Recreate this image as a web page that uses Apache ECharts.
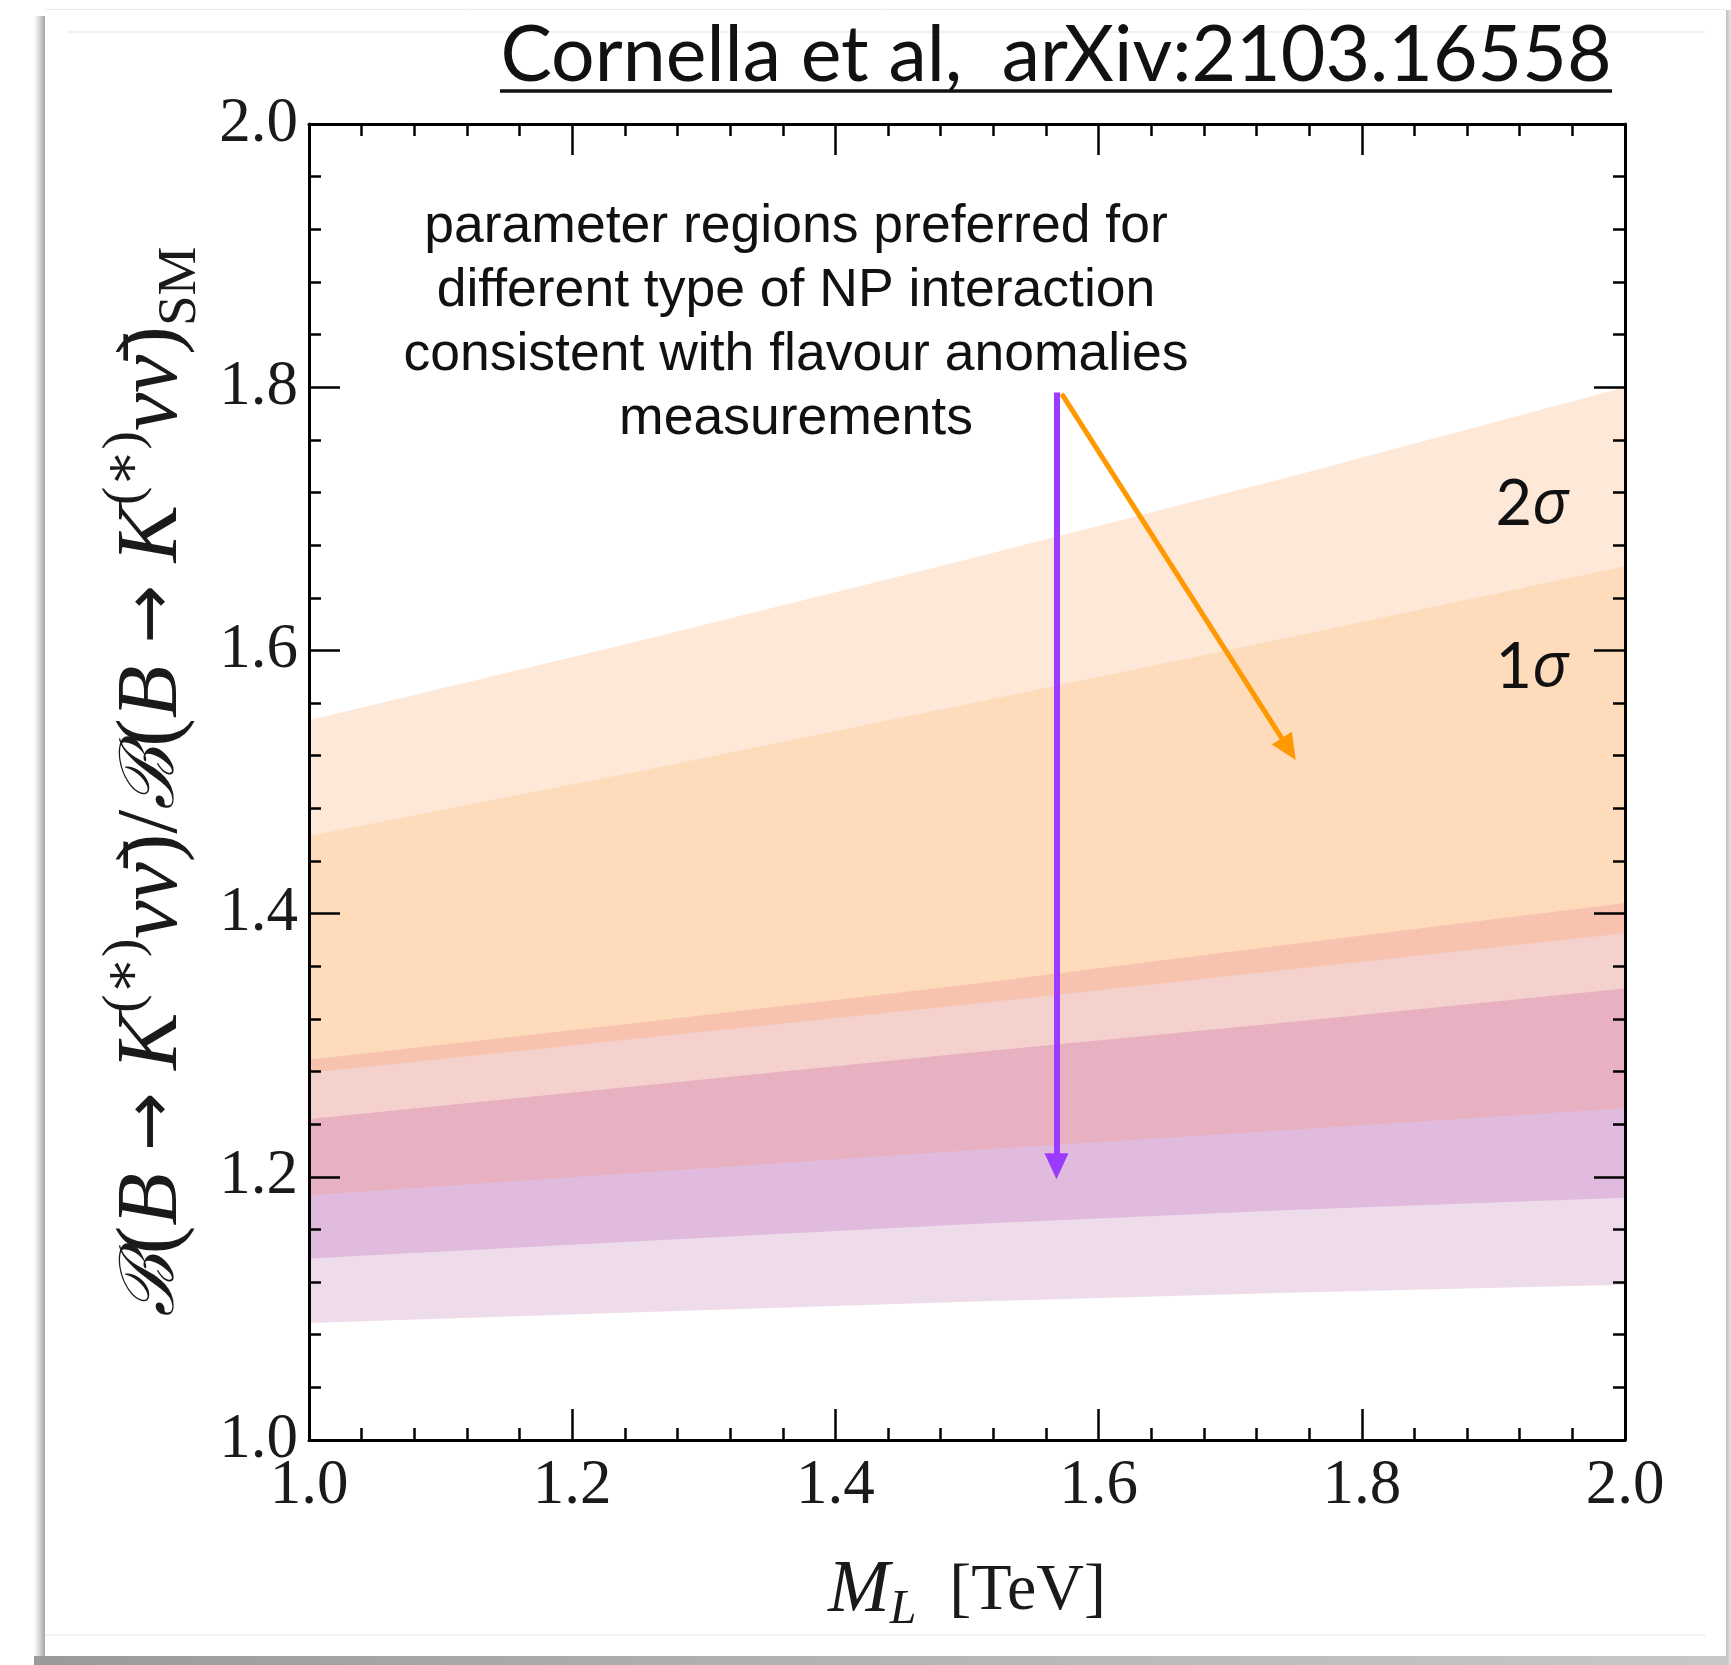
<!DOCTYPE html>
<html>
<head>
<meta charset="utf-8">
<script src="https://cdn.jsdelivr.net/npm/echarts@6/dist/echarts.min.js"></script>
<style>
html,body{margin:0;padding:0;background:#fff;}
#c{width:1731px;height:1665px;}
</style>
</head>
<body>
<div id="c"></div>
<script>
// ---- data ----
const xs        = [1.0, 1.25, 1.5, 1.75, 2.0];
const orange2Hi = [1.547, 1.607, 1.669, 1.733, 1.800];
const orange1Hi = [1.459, 1.508, 1.559, 1.611, 1.664];
const orange1Lo = [1.279, 1.305, 1.331, 1.358, 1.385];
const orange2Lo = [1.186, 1.203, 1.220, 1.236, 1.252];
const purple2Hi = [1.289, 1.317, 1.346, 1.377, 1.408];
const purple1Hi = [1.244, 1.269, 1.294, 1.318, 1.343];
const purple1Lo = [1.138, 1.151, 1.164, 1.175, 1.184];
const purple2Lo = [1.089, 1.097, 1.105, 1.112, 1.118];
const xTicks = ['1.0','1.2','1.4','1.6','1.8','2.0'];
const yTicks = ['1.0','1.2','1.4','1.6','1.8','2.0'];
// arrow annotations [x, y] start -> end
const purpleArrow = [[1.568, 1.796], [1.568, 1.208]];
const orangeArrow = [[1.572, 1.795], [1.7445, 1.525]];

// boundaries top -> bottom, each filled down to the axis with the colour of the region just below it
const bounds = [orange2Hi, orange1Hi, purple2Hi, orange1Lo, purple1Hi, orange2Lo, purple1Lo, purple2Lo];
const fills  = ['#FEE8D8', '#FDDBBB', '#F7C2AE', '#F4D1CD', '#E8B1C1', '#E0BBDE', '#EEDCEB', '#FFFFFF'];

const series = bounds.map((b, k) => ({
  type: 'line', symbol: 'none', silent: true, smooth: false,
  lineStyle: {width: 0, opacity: 0},
  areaStyle: {color: fills[k], opacity: 1, origin: 'start'},
  data: xs.map((x, i) => [x, b[i]])
}));
series.push({
  type: 'line', data: [], silent: true, z: 10,
  markLine: {
    silent: true, animation: false,
    symbol: ['none', 'triangle'], symbolSize: [24, 26],
    label: {show: false},
    data: [
      [{coord: purpleArrow[0], lineStyle: {color: '#9B3BFF', width: 6, type: 'solid'}, itemStyle: {color: '#9B3BFF'}},
       {coord: purpleArrow[1]}],
      [{coord: orangeArrow[0], lineStyle: {color: '#FF9900', width: 5, type: 'solid'}, itemStyle: {color: '#FF9900'}},
       {coord: orangeArrow[1]}]
    ]
  }
});

const serif = '"Liberation Serif", "DejaVu Serif", serif';
const ink = '#1a1a1a';
const tickLabel = {fontFamily: serif, fontSize: 63, color: ink};
const axisCommon = {
  type: 'value', min: 1, max: 2, interval: 0.2, z: 10,
  axisLine: {show: true, onZero: false, lineStyle: {color: '#000', width: 3}},
  axisTick: {show: true, inside: true, length: 31, lineStyle: {color: '#000', width: 2.5}},
  minorTick: {show: true, splitNumber: 5, length: 12, lineStyle: {color: '#000', width: 2.5}},
  splitLine: {show: false}, minorSplitLine: {show: false}
};

const option = {
  animation: false,
  backgroundColor: '#fff',
  grid: {left: 309, top: 124, width: 1316, height: 1316, containLabel: false},
  xAxis: [
    Object.assign({}, axisCommon, {
      position: 'bottom',
      axisLabel: Object.assign({}, tickLabel, {margin: 15, formatter: v => xTicks[Math.round((v - 1) / 0.2)]}),
      name: '{i|M}{sub|L}{u|  [TeV]}', nameLocation: 'middle', nameGap: 110,
      nameTextStyle: {
        rich: {
          i: {fontFamily: serif, fontStyle: 'italic', fontSize: 74, color: ink, lineHeight: 84, verticalAlign: 'middle'},
          sub: {fontFamily: serif, fontStyle: 'italic', fontSize: 48, color: ink, lineHeight: 84, verticalAlign: 'bottom'},
          u: {fontFamily: serif, fontSize: 66, color: ink, lineHeight: 84, verticalAlign: 'middle'}
        }
      }
    }),
    Object.assign({}, axisCommon, {position: 'top', axisLabel: {show: false}})
  ],
  yAxis: [
    Object.assign({}, axisCommon, {
      position: 'left',
      axisLabel: Object.assign({}, tickLabel, {margin: 11, padding: [0, 0, 14, 0], formatter: v => yTicks[Math.round((v - 1) / 0.2)]}),
      name: '{c|ℬ}{u|(}{i|B}{a| → }{i|K}{s|(∗)}{i|νν̄}{u|)/}{c|ℬ}{u|(}{i|B}{a| → }{i|K}{s|(∗)}{i|νν̄}{u|)}{sub|SM}',
      nameLocation: 'middle', nameGap: 100,
      nameTextStyle: {
        rich: {
          c: {fontFamily: '"DejaVu Serif", serif', fontStyle: 'italic', fontSize: 75, color: ink, lineHeight: 110, verticalAlign: 'middle'},
          i: {fontFamily: serif, fontStyle: 'italic', fontSize: 86, color: ink, lineHeight: 110, verticalAlign: 'middle'},
          u: {fontFamily: serif, fontSize: 86, color: ink, lineHeight: 110, verticalAlign: 'middle'},
          a: {fontFamily: '"DejaVu Sans", sans-serif', fontSize: 70, color: ink, lineHeight: 110, verticalAlign: 'middle'},
          s: {fontFamily: serif, fontSize: 55, color: ink, lineHeight: 110, verticalAlign: 'top'},
          sub: {fontFamily: serif, fontSize: 55, color: ink, lineHeight: 110, verticalAlign: 'bottom'}
        }
      }
    }),
    Object.assign({}, axisCommon, {position: 'right', axisLabel: {show: false}})
  ],
  series: series,
  graphic: [
    // card shadows / frame
    {type: 'rect', silent: true, z: -10, shape: {x: 34, y: 16, width: 11, height: 1649},
     style: {fill: {type: 'linear', x: 0, y: 0, x2: 1, y2: 0, colorStops: [{offset: 0, color: 'rgba(180,180,180,0)'}, {offset: 1, color: 'rgba(165,165,165,1)'}]}}},
    {type: 'rect', silent: true, z: -10, shape: {x: 34, y: 1656, width: 1697, height: 9},
     style: {fill: {type: 'linear', x: 0, y: 0, x2: 1, y2: 0, colorStops: [{offset: 0, color: '#9a9a9a'}, {offset: 0.5, color: '#b5b5b5'}, {offset: 1, color: '#c8c8c8'}]}}},
    {type: 'rect', silent: true, z: -10, shape: {x: 1726, y: 10, width: 5, height: 1655},
     style: {fill: {type: 'linear', x: 0, y: 0, x2: 1, y2: 0, colorStops: [{offset: 0, color: 'rgba(190,190,190,1)'}, {offset: 1, color: 'rgba(230,230,230,1)'}]}}},
    {type: 'line', silent: true, shape: {x1: 45, y1: 9.5, x2: 1726, y2: 9.5}, style: {stroke: '#ececec', lineWidth: 1}},
    {type: 'line', silent: true, shape: {x1: 67, y1: 32, x2: 1706, y2: 32}, style: {stroke: '#eeeeee', lineWidth: 1.5}},
    {type: 'line', silent: true, shape: {x1: 45, y1: 1635, x2: 1706, y2: 1635}, style: {stroke: '#f0f0f0', lineWidth: 1.5}},
    // citation
    {type: 'text', silent: true, z: 20, style: {
      text: 'Cornella et al,  arXiv:2103.16558', x: 1056, y: 56, align: 'center', verticalAlign: 'middle',
      font: '400 77px Lato, "Open Sans", sans-serif', fill: '#111'}},
    {type: 'line', silent: true, z: 20, shape: {x1: 500, y1: 91, x2: 1612, y2: 91}, style: {stroke: '#111', lineWidth: 3.5}},
    // annotation
    {type: 'text', silent: true, z: 20, style: {
      text: 'parameter regions preferred for\ndifferent type of NP interaction\nconsistent with flavour anomalies\nmeasurements',
      x: 796, y: 195, align: 'center', verticalAlign: 'top', lineHeight: 64,
      font: '400 53.5px "Liberation Sans", Arial, sans-serif', fill: '#111'}},
    // sigma labels
    {type: 'text', silent: true, z: 20, style: {
      text: '{d|2}{s|σ}', x: 1532, y: 505, align: 'center', verticalAlign: 'middle',
      rich: {d: {font: '400 63px Lato, "Open Sans", sans-serif', fill: '#111'}, s: {font: 'italic 400 63px "Open Sans", "Noto Sans", sans-serif', fill: '#111'}}}},
    {type: 'text', silent: true, z: 20, style: {
      text: '{d|1}{s|σ}', x: 1532, y: 668, align: 'center', verticalAlign: 'middle',
      rich: {d: {font: '400 63px Lato, "Open Sans", sans-serif', fill: '#111'}, s: {font: 'italic 400 63px "Open Sans", "Noto Sans", sans-serif', fill: '#111'}}}}
  ]
};
const chart = echarts.init(document.getElementById('c'), null, {renderer: 'canvas'});
chart.setOption(option);
</script>
</body>
</html>
